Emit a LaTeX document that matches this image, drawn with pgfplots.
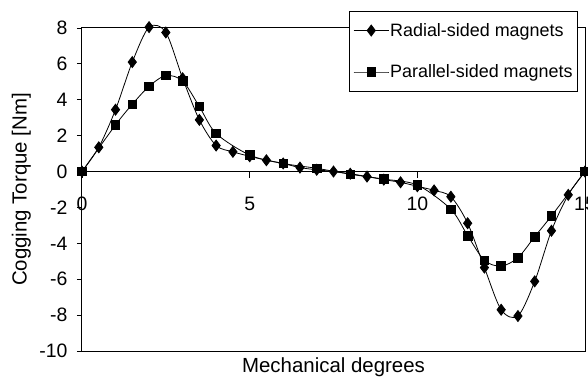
\documentclass[border=0pt]{standalone}
\usepackage{pgfplots}
\pgfplotsset{compat=1.18}
\usepackage{fontspec}
\setmainfont{Liberation Sans}

\pgfplotstableread{
x y
0 0
0.5 1.35
1 3.45
1.5 6.1
2 8.05
2.5 7.75
3 5.2
3.5 2.88
4 1.45
4.5 1.1
5 0.85
5.5 0.63
6 0.45
6.5 0.22
7 0.1
7.5 0
8 -0.12
8.5 -0.28
9 -0.45
9.5 -0.6
10 -0.82
10.5 -1.05
11 -1.4
11.5 -2.88
12 -5.35
12.5 -7.7
13 -8.05
13.5 -6.12
14 -3.3
14.5 -1.3
15 0
}\radial

\pgfplotstableread{
x y
0 0
1 2.6
1.5 3.75
2 4.75
2.5 5.35
3 5.05
3.5 3.62
4 2.12
5 0.92
6 0.45
7 0.18
8 -0.15
9 -0.42
10 -0.75
11 -2.1
11.5 -3.57
12 -4.95
12.5 -5.27
13 -4.8
13.5 -3.63
14 -2.47
15 0
}\parallel

\begin{document}
\begin{tikzpicture}
\begin{axis}[
  scale only axis, width=503bp, height=323bp,
  xmin=0, xmax=15, ymin=-10, ymax=8,
  clip=false,
  xtick=\empty,
  ytick={-10,-8,...,8},
  ytick pos=left, tick align=outside, major tick length=5bp,
  axis line style={line width=1bp},
  every tick/.style={black, line width=0.8bp},
  yticklabel style={font=\fontsize{19.5}{21}\selectfont, xshift=-6bp},
  /pgf/number format/assume math mode=true,
  xlabel={Mechanical degrees},
  xlabel style={at={(axis description cs:0.5,-0.068)}, anchor=base, font=\fontsize{20.5}{23}\selectfont},
  ylabel={Cogging Torque [Nm]},
  ylabel style={at={(axis description cs:-0.11,0.5)}, anchor=base, font=\fontsize{20.5}{23}\selectfont},
  legend style={at={(0.986,1.053)}, anchor=north east, draw=black, line width=0.8bp,
    font=\fontsize{18}{20}\selectfont, row sep=23bp, inner xsep=4bp, inner ysep=10bp,
    nodes={inner xsep=1bp},
    cells={anchor=west}},
  legend image code/.code={\draw[mark repeat=2,mark phase=2] plot coordinates {(0bp,0bp)(17.5bp,0bp)(35bp,0bp)};},
]
\addplot[black, line width=0.8bp, smooth, mark=diamond*, mark size=5.5bp, mark options={solid, fill=black}] table {\radial};
\addlegendentry{Radial-sided magnets}
\addplot[black, line width=0.8bp, smooth, mark=square*, mark size=4.3bp, mark options={solid, fill=black}] table {\parallel};
\addlegendentry{Parallel-sided magnets}
\end{axis}
\begin{axis}[
  scale only axis, width=503bp, height=323bp,
  xmin=0, xmax=15, ymin=-10, ymax=8,
  axis y line=none, axis x line=middle,
  x axis line style={-, line width=1bp},
  xtick={0,5,10,15}, tick align=outside, major tick length=6bp,
  every tick/.style={black, line width=0.8bp},
  hide obscured x ticks=false,
  xticklabel style={font=\fontsize{19.5}{21}\selectfont, yshift=-16bp},
  /pgf/number format/assume math mode=true,
]
\end{axis}
\pgfresetboundingbox
\path[use as bounding box] (-82bp,-26bp) rectangle (506bp,351bp);
\end{tikzpicture}
\end{document}
